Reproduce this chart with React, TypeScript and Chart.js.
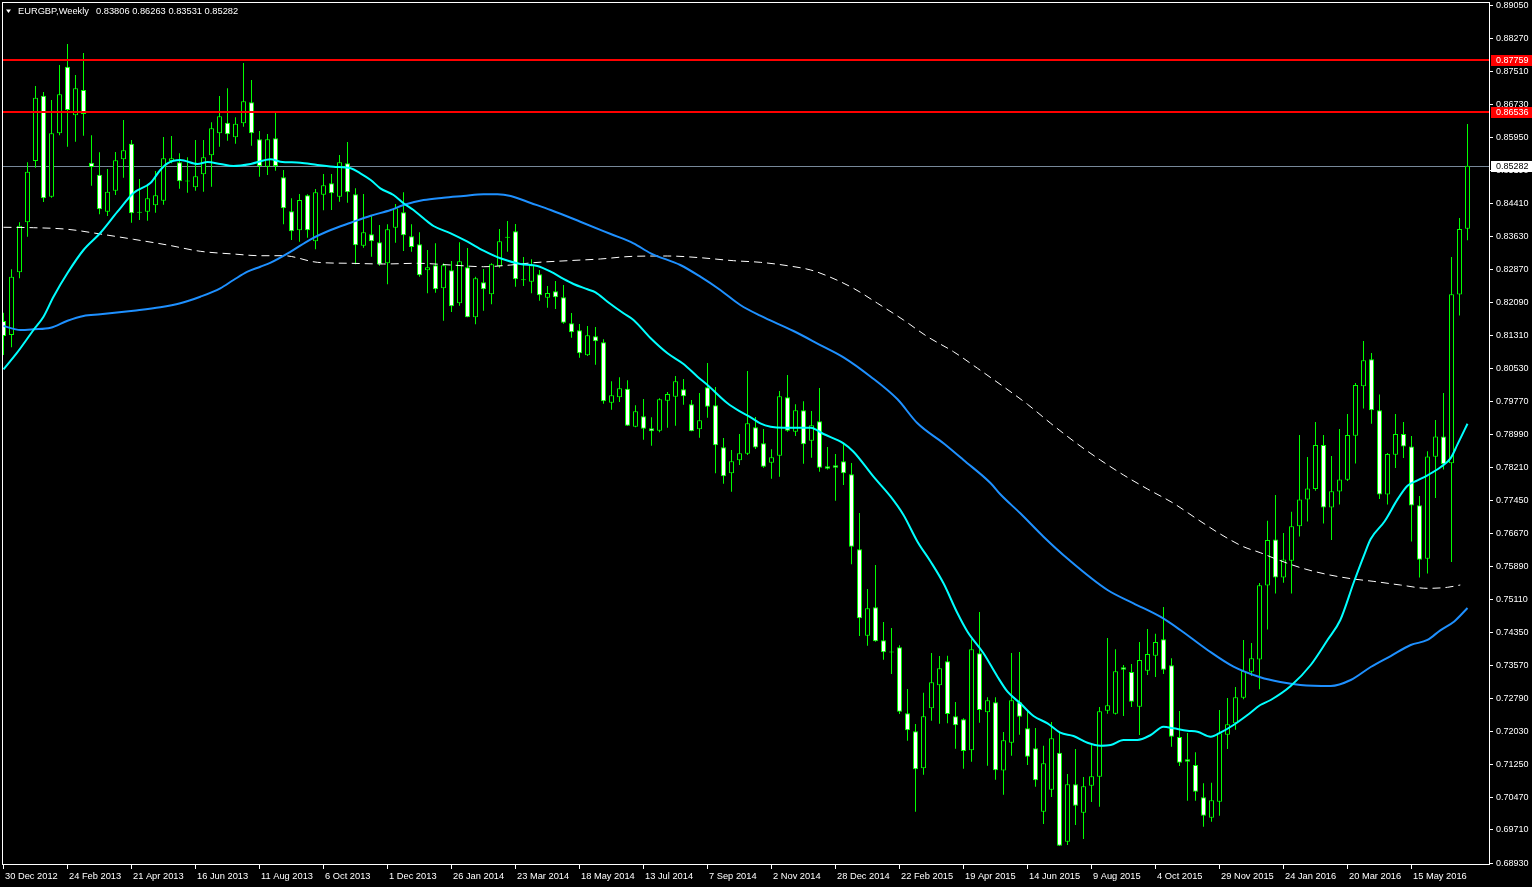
import React, { useEffect, useRef } from "react";
import { Chart, registerables } from "chart.js";

Chart.register(...registerables);

const titleSymbol = "EURGBP,Weekly";
const titleOhlc = "0.83806 0.86263 0.83531 0.85282";

const xTickIndex = [0, 8, 16, 24, 32, 40, 48, 56, 64, 72, 80, 88, 96, 104, 112, 120, 128, 136, 144, 152, 160, 168, 176];
const xTickLabels = [
  "30 Dec 2012", "24 Feb 2013", "21 Apr 2013", "16 Jun 2013", "11 Aug 2013", "6 Oct 2013",
  "1 Dec 2013", "26 Jan 2014", "23 Mar 2014", "18 May 2014", "13 Jul 2014", "7 Sep 2014",
  "2 Nov 2014", "28 Dec 2014", "22 Feb 2015", "19 Apr 2015", "14 Jun 2015", "9 Aug 2015",
  "4 Oct 2015", "29 Nov 2015", "24 Jan 2016", "20 Mar 2016", "15 May 2016",
];

const yTickLabels = [
  "0.89050", "0.88270", "0.87510", "0.86730", "0.85950", "0.85190", "0.84410", "0.83630",
  "0.82870", "0.82090", "0.81310", "0.80530", "0.79770", "0.78990", "0.78210", "0.77450",
  "0.76670", "0.75890", "0.75110", "0.74350", "0.73570", "0.72790", "0.72030", "0.71250",
  "0.70470", "0.69710", "0.68930",
];

const openPrices = [
  0.81639, 0.81311, 0.82782, 0.83955, 0.85393, 0.86925, 0.84555, 0.86043, 0.87605, 0.86465,
  0.87059, 0.85353, 0.85072, 0.84204, 0.84696, 0.85433, 0.85799, 0.84189, 0.84204, 0.84354,
  0.84462, 0.85393, 0.85362, 0.84917, 0.84776, 0.85081, 0.85527, 0.86043, 0.86291, 0.85949,
  0.86277, 0.86770, 0.85902, 0.85259, 0.85926, 0.85011, 0.84213, 0.83767, 0.84588, 0.83509,
  0.84602, 0.84870, 0.84555, 0.85339, 0.84612, 0.83406, 0.83673, 0.83486, 0.82993, 0.83828,
  0.84189, 0.83626, 0.83439, 0.82829, 0.82946, 0.82406, 0.82829, 0.82055, 0.82899, 0.81726,
  0.82547, 0.82266, 0.82923, 0.83594, 0.83744, 0.82601, 0.82561, 0.82735, 0.82186, 0.82336,
  0.82195, 0.81585, 0.81421, 0.80835, 0.81280, 0.81140, 0.79723, 0.79849, 0.80051, 0.79160,
  0.79404, 0.79122, 0.79066, 0.79770, 0.79863, 0.80037, 0.79685, 0.79099, 0.80084, 0.79662,
  0.78676, 0.78066, 0.78371, 0.78526, 0.79146, 0.78770, 0.78315, 0.78479, 0.79849, 0.79042,
  0.79544, 0.78831, 0.79286, 0.78231, 0.78254, 0.78348, 0.78043, 0.76283, 0.74256, 0.74923,
  0.74149, 0.73867, 0.73984, 0.72436, 0.72014, 0.71146, 0.72553, 0.73093, 0.73656, 0.72366,
  0.72295, 0.71568, 0.73844, 0.72459, 0.72694, 0.71094, 0.71746, 0.72694, 0.72084, 0.71615,
  0.70128, 0.70644, 0.71512, 0.69424, 0.70770, 0.70104, 0.70737, 0.70949, 0.72497, 0.72427,
  0.73515, 0.73405, 0.72591, 0.73435, 0.73787, 0.74172, 0.73562, 0.71880, 0.71357, 0.71223,
  0.70465, 0.69987, 0.70362, 0.71934, 0.72201, 0.72802, 0.73412, 0.73700, 0.75434, 0.76516,
  0.75620, 0.76016, 0.76823, 0.77454, 0.77696, 0.78730, 0.77266, 0.77639, 0.77914, 0.78948,
  0.80110, 0.80741, 0.79544, 0.77567, 0.78503, 0.78988, 0.78698, 0.77316, 0.76063, 0.78456,
  0.78932, 0.78301, 0.82259, 0.83806,
];

const highPrices = [
  0.81834, 0.82852, 0.83955, 0.85362, 0.87152, 0.87012, 0.86824, 0.87645, 0.88138, 0.87410,
  0.87927, 0.85996, 0.85597, 0.85205, 0.85604, 0.86355, 0.85886, 0.84971, 0.84853, 0.85158,
  0.85956, 0.85979, 0.85574, 0.85480, 0.85886, 0.85886, 0.86301, 0.86918, 0.87098, 0.86418,
  0.87692, 0.87293, 0.86097, 0.86026, 0.86526, 0.85182, 0.84518, 0.84619, 0.84612, 0.84736,
  0.85088, 0.85088, 0.85534, 0.85839, 0.84752, 0.84619, 0.84103, 0.83892, 0.83908, 0.84384,
  0.84659, 0.83908, 0.83720, 0.83305, 0.83462, 0.82993, 0.83047, 0.83486, 0.83352, 0.82679,
  0.82859, 0.82993, 0.83798, 0.83985, 0.83915, 0.83141, 0.83087, 0.82836, 0.82460, 0.82578,
  0.82484, 0.81827, 0.81569, 0.81522, 0.81499, 0.81210, 0.80225, 0.80319, 0.80248, 0.79662,
  0.79810, 0.79380, 0.79826, 0.79974, 0.80349, 0.80279, 0.79786, 0.79950, 0.80654, 0.80091,
  0.78895, 0.78613, 0.78988, 0.80466, 0.79387, 0.79106, 0.78629, 0.79997, 0.80373, 0.79685,
  0.79755, 0.79528, 0.80068, 0.78683, 0.78519, 0.78777, 0.78308, 0.77135, 0.75352, 0.75915,
  0.74578, 0.74437, 0.74031, 0.73006, 0.72185, 0.72919, 0.73851, 0.73780, 0.73787, 0.72701,
  0.72319, 0.74172, 0.74813, 0.72811, 0.72811, 0.71997, 0.73851, 0.73874, 0.72490, 0.72091,
  0.71676, 0.72232, 0.71997, 0.71012, 0.71598, 0.70942, 0.71692, 0.72584, 0.74203, 0.73937,
  0.73569, 0.73593, 0.74109, 0.74414, 0.74303, 0.74930, 0.73726, 0.72490, 0.71974, 0.71521,
  0.70794, 0.70808, 0.72513, 0.72795, 0.73053, 0.74156, 0.74085, 0.75493, 0.76952, 0.77557,
  0.76668, 0.77163, 0.78965, 0.78446, 0.79270, 0.78965, 0.78470, 0.79108, 0.79458, 0.80182,
  0.81170, 0.80886, 0.79917, 0.78543, 0.79458, 0.79270, 0.78939, 0.77534, 0.78585, 0.79319,
  0.79950, 0.83141, 0.84053, 0.86263,
];

const lowPrices = [
  0.80842, 0.81022, 0.82641, 0.83617, 0.85236, 0.84431, 0.84532, 0.85996, 0.85728, 0.85846,
  0.85987, 0.84814, 0.84143, 0.84103, 0.84595, 0.85001, 0.83946, 0.84009, 0.83992, 0.84180,
  0.84368, 0.85339, 0.84743, 0.84649, 0.84696, 0.84673, 0.84790, 0.85728, 0.85869, 0.85799,
  0.86198, 0.85752, 0.85025, 0.85065, 0.85165, 0.83908, 0.83540, 0.83500, 0.83594, 0.83321,
  0.84236, 0.84243, 0.84438, 0.84415, 0.82970, 0.83359, 0.83148, 0.82937, 0.82500, 0.83476,
  0.83282, 0.83265, 0.82679, 0.82289, 0.82303, 0.81646, 0.81850, 0.81998, 0.81726, 0.81562,
  0.81881, 0.82031, 0.82890, 0.83265, 0.82444, 0.82460, 0.82289, 0.82116, 0.81951, 0.81921,
  0.81576, 0.81248, 0.80778, 0.80818, 0.80614, 0.79699, 0.79558, 0.79739, 0.79176, 0.79146,
  0.78855, 0.78714, 0.79028, 0.79136, 0.79183, 0.79676, 0.79052, 0.78902, 0.79371, 0.78066,
  0.77822, 0.77635, 0.78261, 0.78496, 0.78636, 0.78198, 0.77940, 0.77987, 0.79042, 0.78941,
  0.78292, 0.78432, 0.78104, 0.78155, 0.77424, 0.77792, 0.75932, 0.74249, 0.74022, 0.74115,
  0.73693, 0.73358, 0.72420, 0.71793, 0.70128, 0.70996, 0.72262, 0.72192, 0.72201, 0.71606,
  0.71136, 0.71300, 0.72215, 0.71207, 0.70878, 0.70526, 0.71441, 0.71934, 0.71223, 0.70714,
  0.69839, 0.70472, 0.69323, 0.69346, 0.69816, 0.69487, 0.70355, 0.70245, 0.72427, 0.72408,
  0.72373, 0.72584, 0.71927, 0.73335, 0.73288, 0.73358, 0.71652, 0.71200, 0.70386, 0.70386,
  0.69776, 0.69893, 0.70034, 0.71598, 0.72051, 0.72764, 0.73311, 0.73000, 0.74400, 0.75247,
  0.75498, 0.75247, 0.76581, 0.76936, 0.77656, 0.76889, 0.76499, 0.77332, 0.77888, 0.78294,
  0.79587, 0.79230, 0.77461, 0.77332, 0.78188, 0.78423, 0.76466, 0.75620, 0.75716, 0.77487,
  0.78156, 0.75983, 0.81766, 0.83531,
];

const closePrices = [
  0.81287, 0.82679, 0.83875, 0.85142, 0.86878, 0.84518, 0.86043, 0.86958, 0.86589, 0.87098,
  0.86496, 0.85252, 0.84260, 0.84673, 0.85409, 0.85644, 0.84166, 0.84180, 0.84518, 0.84588,
  0.85456, 0.85456, 0.84917, 0.84910, 0.85034, 0.85480, 0.86160, 0.86442, 0.86019, 0.86268,
  0.86794, 0.86043, 0.85276, 0.85902, 0.85276, 0.84283, 0.83744, 0.84478, 0.83767, 0.84659,
  0.84823, 0.84635, 0.85362, 0.84659, 0.83415, 0.83720, 0.83509, 0.82970, 0.83791, 0.84283,
  0.83650, 0.83375, 0.82711, 0.82899, 0.82383, 0.82946, 0.81984, 0.83040, 0.81726, 0.82641,
  0.82383, 0.82970, 0.83509, 0.83590, 0.82618, 0.82595, 0.82946, 0.82242, 0.82296, 0.82195,
  0.81600, 0.81374, 0.80882, 0.81304, 0.81163, 0.79755, 0.79896, 0.80061, 0.79183, 0.79521,
  0.79113, 0.79052, 0.79802, 0.79927, 0.80225, 0.79873, 0.79052, 0.79310, 0.79629, 0.78723,
  0.77996, 0.78348, 0.78536, 0.79239, 0.78672, 0.78221, 0.78442, 0.79873, 0.79066, 0.79544,
  0.78747, 0.79193, 0.78198, 0.78174, 0.78198, 0.78066, 0.76344, 0.74665, 0.74899, 0.74125,
  0.73867, 0.73860, 0.72474, 0.72037, 0.71122, 0.72366, 0.73163, 0.73492, 0.72420, 0.72155,
  0.71552, 0.73937, 0.72513, 0.72741, 0.71099, 0.71803, 0.72741, 0.72356, 0.71418, 0.70864,
  0.71263, 0.71850, 0.69330, 0.70770, 0.70268, 0.70723, 0.70958, 0.72483, 0.72624, 0.73421,
  0.73459, 0.72708, 0.73686, 0.73827, 0.74109, 0.73459, 0.71887, 0.71277, 0.71300, 0.70597,
  0.70034, 0.70395, 0.71967, 0.72178, 0.72811, 0.73428, 0.73726, 0.75441, 0.76499, 0.75620,
  0.76047, 0.76823, 0.77454, 0.77712, 0.78730, 0.77266, 0.77646, 0.77921, 0.78965, 0.80136,
  0.80717, 0.79544, 0.77567, 0.78519, 0.78988, 0.78698, 0.77309, 0.76039, 0.78463, 0.78932,
  0.78278, 0.82268, 0.83795, 0.85282,
];

// moving averages: [week index, price]
const maFast = [
  [0, 0.80506], [1.7, 0.80896], [3.75, 0.81428], [5, 0.8174], [6.25, 0.82209], [8, 0.82765],
  [10, 0.83305], [12.1, 0.83704], [14.25, 0.84204], [16.25, 0.84642], [18.4, 0.84884], [19.6, 0.85182],
  [20.5, 0.85339], [22.1, 0.85416], [24.25, 0.85323], [25.5, 0.8537], [27.1, 0.85323], [28.75, 0.85276],
  [30.9, 0.85323], [33.4, 0.85433], [34.6, 0.85377], [37.1, 0.85353], [39.25, 0.85299], [41.25, 0.85259],
  [43.4, 0.85222], [44.6, 0.85104], [45.9, 0.84947], [47.1, 0.84752], [48.75, 0.84595], [50, 0.84401],
  [51.25, 0.84243], [52.5, 0.84049], [53.75, 0.83868], [55.9, 0.83697], [58, 0.835], [60, 0.83289],
  [62.1, 0.8311], [64.6, 0.82977], [66.75, 0.8293], [68.4, 0.82796], [70, 0.82625], [71.25, 0.82507],
  [73, 0.82383], [74, 0.82313], [75.5, 0.82092], [77.5, 0.8182], [78.75, 0.81663], [80.9, 0.81234],
  [83, 0.80882], [85, 0.80631], [86.75, 0.80333], [88, 0.80138], [90.5, 0.79709], [92.1, 0.79512],
  [93.4, 0.7938], [94.6, 0.79239], [95.9, 0.7916], [97.5, 0.79136], [100.9, 0.79136], [102.5, 0.78988],
  [105, 0.7877], [106.25, 0.78573], [108.75, 0.77987], [110.9, 0.77517], [112.5, 0.77088], [114.25, 0.76462],
  [115.9, 0.75992], [117.5, 0.75486], [119.25, 0.74782], [120.5, 0.7435], [122.5, 0.73844], [124.25, 0.73295],
  [125.5, 0.72943], [127.1, 0.72671], [128.75, 0.72373], [130.5, 0.72201], [132.1, 0.71981], [133.75, 0.71903],
  [135.5, 0.71746], [137.1, 0.71676], [138.4, 0.71692], [140, 0.7181], [141.75, 0.7181], [143.4, 0.71927],
  [145, 0.72122], [146.25, 0.72084], [148, 0.72028], [149.25, 0.72005], [150.9, 0.71887], [152.1, 0.71981],
  [153.75, 0.72162], [155.5, 0.72396], [157.1, 0.72631], [158.4, 0.72748], [160.9, 0.73076], [163.4, 0.73569],
  [165.5, 0.74156], [167.1, 0.74625], [168.8, 0.75516], [170.1, 0.76161], [170.9, 0.76525], [172.6, 0.76929],
  [174.25, 0.77454], [175.5, 0.77775], [176.75, 0.77898], [178, 0.7802], [179.7, 0.78221], [180.9, 0.78423],
  [181.75, 0.78744], [183, 0.7923],
];

const maMid = [
  [0, 0.81522], [2.1, 0.81428], [3.75, 0.81445], [5.9, 0.81482], [8, 0.81646], [10, 0.81757],
  [12.1, 0.81796], [16.25, 0.81881], [19.6, 0.81961], [22.1, 0.82055], [24.6, 0.82209], [27.1, 0.82406],
  [28.75, 0.82601], [30.5, 0.82796], [32.1, 0.82913], [33.4, 0.83007], [35.9, 0.83265], [38.4, 0.83556],
  [40.9, 0.83774], [43.4, 0.83945], [45.9, 0.8411], [48.4, 0.84243], [50, 0.84361], [52.5, 0.84478],
  [55, 0.84532], [57.5, 0.84572], [60, 0.84612], [61.75, 0.84612], [63.4, 0.84572], [65.9, 0.84408],
  [68.4, 0.84243], [72.1, 0.83969], [75.9, 0.8368], [78.75, 0.83462], [80.9, 0.83228], [84.6, 0.82953],
  [87.1, 0.82679], [89.6, 0.82367], [92.1, 0.82015], [94.6, 0.81764], [98.75, 0.81405], [102.1, 0.81076],
  [105, 0.80788], [108.4, 0.80333], [111.75, 0.79802], [114.25, 0.79239], [117.5, 0.7877], [120, 0.78378],
  [123.4, 0.77832], [124.6, 0.77574], [127.1, 0.77128], [130, 0.76579], [133.1, 0.76049], [138, 0.75329],
  [141.25, 0.75017], [144.6, 0.74702], [147.1, 0.7439], [150.5, 0.73921], [153.75, 0.73529], [157.1, 0.73281],
  [159.6, 0.7317], [162.1, 0.731], [165.9, 0.73076], [168.4, 0.73217], [170.9, 0.73522], [173.4, 0.7378],
  [175.9, 0.74038], [178, 0.74156], [179.6, 0.74383], [181.3, 0.74585], [183, 0.74906],
];

const maSlow = [
  [0, 0.83838], [3.75, 0.83828], [8, 0.83791], [12.1, 0.8368], [16.25, 0.83556], [20.5, 0.83422],
  [24.6, 0.83275], [28.75, 0.83211], [32.1, 0.83171], [35, 0.83171], [39.25, 0.83016], [43.4, 0.82993],
  [47.5, 0.82977], [51.75, 0.82993], [55.9, 0.82953], [60, 0.82913], [63.4, 0.82953], [66.25, 0.83007],
  [70.5, 0.83054], [74.6, 0.83094], [78.75, 0.83157], [83, 0.83164], [87.1, 0.83124], [91.25, 0.83054],
  [94.6, 0.83016], [98, 0.82937], [100.9, 0.82836], [103, 0.82695], [106.25, 0.82406], [109.25, 0.82055],
  [112.5, 0.81663], [115.5, 0.81271], [118.75, 0.80919], [121.75, 0.8053], [125, 0.80098], [128, 0.79685],
  [130.9, 0.79239], [134.25, 0.78754], [137.1, 0.78378], [140, 0.78027], [143, 0.77698], [146.25, 0.77363],
  [149.25, 0.76987], [152.1, 0.76642], [155, 0.76344], [157.1, 0.76204], [158.75, 0.76079], [162.1, 0.75854],
  [165.5, 0.75692], [168.4, 0.75596], [171.3, 0.7553], [174.6, 0.75446], [178, 0.75368], [180.5, 0.75392],
  [182.1, 0.75446],
];

const redLevels = [0.87759, 0.86536];
const redLevelLabels = ["0.87759", "0.86536"];
const bidPrice = 0.85282;
const bidLabel = "0.85282";

const LIME = "#00ff00";

export default function App() {
  const canvasRef = useRef<HTMLCanvasElement | null>(null);

  useEffect(() => {
    document.body.style.margin = "0";
    document.body.style.background = "#000";
    const canvas = canvasRef.current;
    if (!canvas) return;

    const idx = openPrices.map((_, i) => i);
    const wickData = idx.map((i) => ({ x: i, y: [lowPrices[i], highPrices[i]] }));
    const bodyData = idx.map((i) => ({ x: i, y: [openPrices[i], closePrices[i]] }));
    const bodyFill = idx.map((i) => (closePrices[i] < openPrices[i] ? "#ffffff" : "#000000"));
    const toPts = (arr: number[][]) => arr.map(([x, y]) => ({ x, y }));

    const overlay = {
      id: "mt4overlay",
      beforeDraw(chart: any) {
        const ctx = chart.ctx;
        ctx.save();
        ctx.fillStyle = "#000";
        ctx.fillRect(0, 0, chart.width, chart.height);
        ctx.restore();
      },
      beforeDatasetsDraw(chart: any) {
        const ctx = chart.ctx;
        const a = chart.chartArea;
        const y = Math.round(chart.scales.y.getPixelForValue(bidPrice));
        ctx.save();
        ctx.fillStyle = "#778899";
        ctx.fillRect(a.left, y, a.right - a.left, 1);
        ctx.restore();
      },
      afterDatasetsDraw(chart: any) {
        const ctx = chart.ctx;
        const a = chart.chartArea;
        const ys = chart.scales.y;
        const xs = chart.scales.x;
        ctx.save();
        // red horizontal levels
        ctx.fillStyle = "#ff0000";
        redLevels.forEach((lv) => {
          const y = Math.round(ys.getPixelForValue(lv));
          ctx.fillRect(a.left, y - 1, a.right - a.left, 2);
        });
        // frame
        ctx.strokeStyle = "#ffffff";
        ctx.lineWidth = 1;
        ctx.strokeRect(a.left + 0.5, a.top + 0.5, a.right - a.left, a.bottom - a.top);
        // y ticks + labels
        ctx.fillStyle = "#ffffff";
        ctx.font = '9px "Liberation Sans", Arial, sans-serif';
        ctx.textBaseline = "middle";
        ctx.textAlign = "left";
        yTickLabels.forEach((t) => {
          const y = Math.round(ys.getPixelForValue(parseFloat(t)));
          ctx.fillRect(a.right, y, 4, 1);
          ctx.fillText(t, a.right + 7, y + 0.5);
        });
        // x ticks + labels
        ctx.font = '9.3px "Liberation Sans", Arial, sans-serif';
        xTickIndex.forEach((wi, k) => {
          const x = Math.floor(xs.getPixelForValue(wi));
          ctx.fillRect(x, a.bottom, 1, 5);
          ctx.fillText(xTickLabels[k], x + 2, a.bottom + 12);
        });
        // price boxes
        ctx.font = '9px "Liberation Sans", Arial, sans-serif';
        redLevels.forEach((lv, k) => {
          const y = Math.round(ys.getPixelForValue(lv));
          ctx.fillStyle = "#ff0000";
          ctx.fillRect(a.right + 2, y - 5, chart.width - a.right - 2, 11);
          ctx.fillStyle = "#ffffff";
          ctx.fillText(redLevelLabels[k], a.right + 7, y + 0.5);
        });
        {
          const y = Math.round(ys.getPixelForValue(bidPrice));
          ctx.fillStyle = "#ffffff";
          ctx.fillRect(a.right + 2, y - 5, chart.width - a.right - 2, 11);
          ctx.fillStyle = "#000000";
          ctx.fillText(bidLabel, a.right + 7, y + 0.5);
        }
        // title
        ctx.fillStyle = "#ffffff";
        ctx.beginPath();
        ctx.moveTo(6, 9.5);
        ctx.lineTo(11, 9.5);
        ctx.lineTo(8.5, 13);
        ctx.closePath();
        ctx.fill();
        ctx.font = '9.3px "Liberation Sans", Arial, sans-serif';
        ctx.fillText(titleSymbol, 18, 11.5);
        ctx.fillText(titleOhlc, 96, 11.5);
        ctx.restore();
      },
    };

    const chart = new Chart(canvas, {
      type: "bar",
      data: {
        datasets: [
          {
            type: "line",
            data: toPts(maFast),
            borderColor: "#00ffff",
            borderWidth: 2,
            pointRadius: 0,
            cubicInterpolationMode: "monotone",
            order: 0,
          } as any,
          {
            type: "line",
            data: toPts(maMid),
            borderColor: "#1e90ff",
            borderWidth: 2,
            pointRadius: 0,
            cubicInterpolationMode: "monotone",
            order: 0,
          } as any,
          {
            type: "line",
            data: toPts(maSlow),
            borderColor: "#ffffff",
            borderWidth: 1,
            borderDash: [8, 5],
            pointRadius: 0,
            cubicInterpolationMode: "monotone",
            order: 0,
          } as any,
          {
            type: "bar",
            data: bodyData,
            backgroundColor: bodyFill,
            borderColor: LIME,
            borderWidth: 1,
            borderSkipped: false,
            barThickness: 5,
            grouped: false,
            minBarLength: 1,
            inflateAmount: 0,
            order: 1,
          } as any,
          {
            type: "bar",
            data: wickData,
            backgroundColor: LIME,
            borderWidth: 0,
            barThickness: 1,
            grouped: false,
            inflateAmount: 0,
            order: 2,
          } as any,
        ],
      },
      options: {
        animation: false,
        responsive: false,
        devicePixelRatio: 1,
        events: [],
        layout: { padding: { left: 2, top: 2, right: 43, bottom: 23 } },
        plugins: {
          legend: { display: false },
          tooltip: { enabled: false },
          title: { display: false },
        },
        scales: {
          x: { type: "linear", min: -0.1875, max: 185.6875, display: false, offset: false },
          y: { type: "linear", min: 0.6890056, max: 0.8912308, display: false },
        },
      } as any,
      plugins: [overlay],
    });
    return () => chart.destroy();
  }, []);

  return (
    <div style={{ position: "fixed", left: 0, top: 0, width: 1532, height: 887, background: "#000" }}>
      <canvas ref={canvasRef} width={1532} height={887} style={{ display: "block" }} />
    </div>
  );
}
